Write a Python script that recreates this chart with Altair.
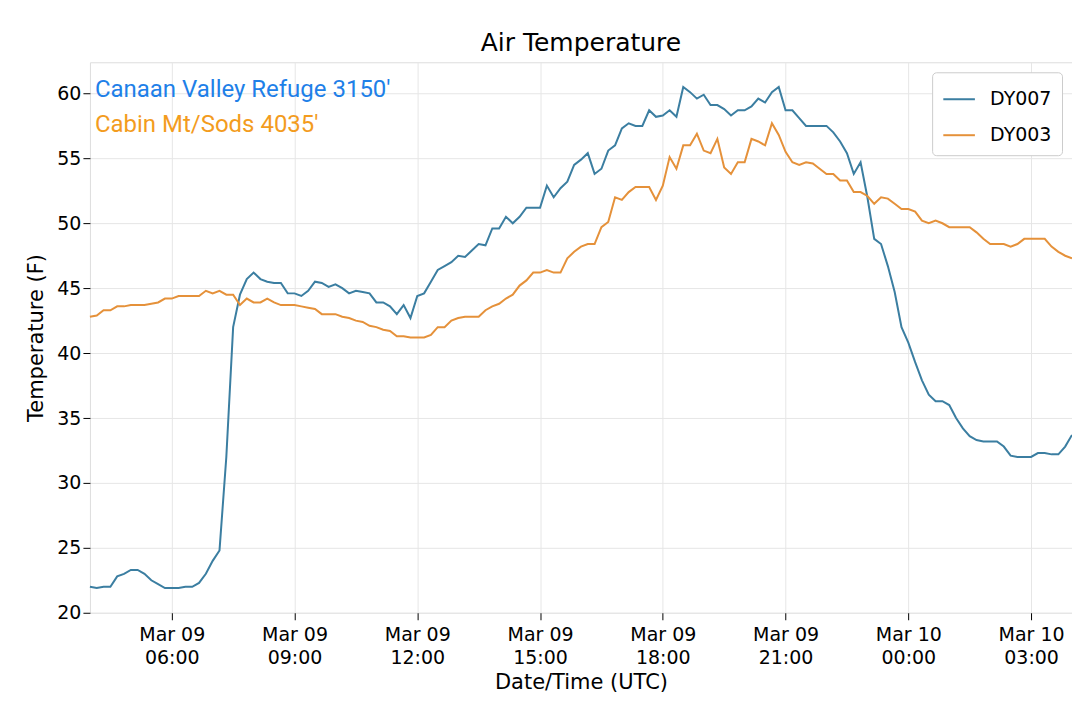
"""Air temperature at two stations, Mar 09-10."""

import pandas as pd
import altair as alt

START = "2019-03-09T04:00:00Z"
STEP_MIN = 10

# DY007 - Canaan Valley Refuge, every 10 minutes from 04:00 UTC
dy007 = [
    22.0, 21.9, 22.0, 22.0, 22.8, 23.0, 23.3, 23.3, 23.0, 22.5,
    22.2, 21.9, 21.9, 21.9, 22.0, 22.0, 22.3, 23.0, 24.0, 24.8,
    32.0, 42.0, 44.5, 45.7, 46.2, 45.7, 45.5, 45.4, 45.4, 44.6,
    44.6, 44.4, 44.8, 45.5, 45.4, 45.1, 45.3, 45.0, 44.6, 44.8,
    44.7, 44.6, 43.9, 43.9, 43.6, 43.0, 43.7, 42.7, 44.4, 44.6,
    45.5, 46.4, 46.7, 47.0, 47.5, 47.4, 47.9, 48.4, 48.3, 49.6,
    49.6, 50.5, 50.0, 50.5, 51.2, 51.2, 51.2, 52.9, 52.0, 52.7,
    53.2, 54.5, 54.9, 55.4, 53.8, 54.2, 55.6, 56.0, 57.3, 57.7,
    57.5, 57.5, 58.7, 58.2, 58.3, 58.7, 58.2, 60.5, 60.1, 59.6,
    59.9, 59.1, 59.1, 58.8, 58.3, 58.7, 58.7, 59.0, 59.6, 59.3,
    60.1, 60.5, 58.7, 58.7, 58.1, 57.5, 57.5, 57.5, 57.5, 57.0,
    56.3, 55.4, 53.8, 54.7, 52.0, 48.8, 48.4, 46.7, 44.7, 42.0,
    40.8, 39.3, 37.9, 36.8, 36.3, 36.3, 36.0, 35.0, 34.2, 33.6,
    33.3, 33.2, 33.2, 33.2, 32.8, 32.1, 32.0, 32.0, 32.0, 32.3,
    32.3, 32.2, 32.2, 32.8, 33.7,
]

# DY003 - Cabin Mt/Sods
dy003 = [
    42.8, 42.9, 43.3, 43.3, 43.6, 43.6, 43.7, 43.7, 43.7, 43.8,
    43.9, 44.2, 44.2, 44.4, 44.4, 44.4, 44.4, 44.8, 44.6, 44.8,
    44.5, 44.5, 43.7, 44.2, 43.9, 43.9, 44.2, 43.9, 43.7, 43.7,
    43.7, 43.6, 43.5, 43.4, 43.0, 43.0, 43.0, 42.8, 42.7, 42.5,
    42.4, 42.1, 42.0, 41.8, 41.7, 41.3, 41.3, 41.2, 41.2, 41.2,
    41.4, 42.0, 42.0, 42.5, 42.7, 42.8, 42.8, 42.8, 43.3, 43.6,
    43.8, 44.2, 44.5, 45.2, 45.6, 46.2, 46.2, 46.4, 46.2, 46.2,
    47.3, 47.8, 48.2, 48.4, 48.4, 49.7, 50.1, 52.0, 51.8, 52.4,
    52.8, 52.8, 52.8, 51.8, 52.9, 55.1, 54.2, 56.0, 56.0, 56.9,
    55.6, 55.4, 56.5, 54.3, 53.8, 54.7, 54.7, 56.5, 56.3, 56.0,
    57.7, 56.8, 55.5, 54.7, 54.5, 54.7, 54.6, 54.2, 53.8, 53.8,
    53.3, 53.3, 52.4, 52.4, 52.1, 51.5, 52.0, 51.9, 51.5, 51.1,
    51.1, 50.9, 50.2, 50.0, 50.2, 50.0, 49.7, 49.7, 49.7, 49.7,
    49.3, 48.8, 48.4, 48.4, 48.4, 48.2, 48.4, 48.8, 48.8, 48.8,
    48.8, 48.2, 47.8, 47.5, 47.3,
]

series = ["DY007", "DY003"]
colors = ["#3b7ea1", "#e5913a"]

times = pd.date_range(START, periods=len(dy007), freq=f"{STEP_MIN}min")
df = pd.concat([
    pd.DataFrame({"time": times, "temp": dy007, "station": "DY007"}),
    pd.DataFrame({"time": times, "temp": dy003, "station": "DY003"}),
])

FONT = "DejaVu Sans"
X_DOMAIN = ["2019-03-09T04:00:00Z", "2019-03-10T04:00:00Z"]

lines = (
    alt.Chart(df)
    .mark_line(strokeWidth=2)
    .encode(
        x=alt.X(
            "time:T",
            title="Date/Time (UTC)",
            scale=alt.Scale(type="utc", domain=X_DOMAIN),
            axis=alt.Axis(
                values=[f"2019-03-09T{h:02d}:00:00Z" for h in (6, 9, 12, 15, 18, 21)]
                + ["2019-03-10T00:00:00Z", "2019-03-10T03:00:00Z"],
                labelExpr="[utcFormat(datum.value, '%b %d'), utcFormat(datum.value, '%H:%M')]",
                labelFontSize=19, titleFontSize=21, labelPadding=6,
                labelLineHeight=23, titlePadding=4,
                tickColor="black", tickSize=7, domain=False,
                gridColor="#e6e6e6",
            ),
        ),
        y=alt.Y(
            "temp:Q",
            title="Temperature (F)",
            scale=alt.Scale(domain=[20, 62.4], nice=False, zero=False),
            axis=alt.Axis(values=list(range(20, 61, 5)), labelFontSize=19,
                          titleFontSize=21, tickColor="black", tickSize=7,
                          domain=False, gridColor="#e6e6e6", titlePadding=10),
        ),
        color=alt.Color(
            "station:N",
            scale=alt.Scale(domain=series, range=colors),
            legend=alt.Legend(
                title=None, orient="top-right", labelFontSize=19,
                symbolType="stroke", symbolStrokeWidth=2, symbolSize=1000,
                strokeColor="#cccccc", padding=10, cornerRadius=4,
                fillColor="white", offset=10, rowPadding=9, labelOffset=14,
            ),
        ),
    )
)

notes = pd.DataFrame({
    "label": ["Canaan Valley Refuge 3150'", "Cabin Mt/Sods 4035'"],
    "ypix": [28, 63],
    "color": ["#1e80e8", "#f39c1e"],
})
text = (
    alt.Chart(notes)
    .mark_text(align="left", baseline="middle", fontSize=24, font="Roboto")
    .encode(x=alt.value(5), y=alt.Y("ypix:Q", scale=None),
            text="label:N", color=alt.Color("color:N", scale=None, legend=None))
)

chart = (
    alt.layer(lines, text)
    .resolve_scale(color="independent")
    .properties(
        width=983, height=551,
        title=alt.TitleParams("Air Temperature", fontSize=25, fontWeight="normal",
                              font=FONT, offset=6),
        autosize=alt.AutoSizeParams(type="none"),
        padding={"left": 82, "top": 54, "right": 0, "bottom": 92},
    )
    .configure_view(stroke="black", strokeWidth=1.2)
    .configure(font=FONT)
    .configure_axis(labelFont=FONT, titleFont=FONT, titleFontWeight="normal",
                    labelColor="black", titleColor="black")
    .configure_legend(labelFont=FONT)
)

chart.save("out.html", embed_options={"renderer": "svg", "actions": False})
